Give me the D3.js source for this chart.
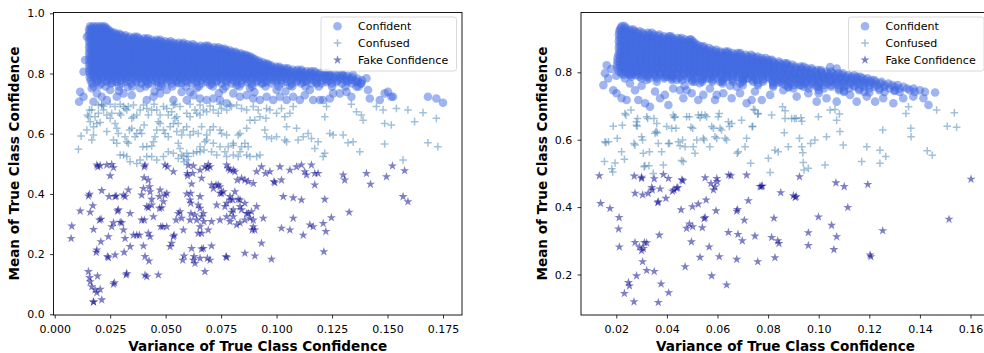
<!DOCTYPE html>
<html>
<head>
<meta charset="utf-8">
<script src="https://cdn.jsdelivr.net/npm/d3@7"></script>
<style>
  body { margin: 0; background: #fff; }
  svg { display: block; font-family: "DejaVu Sans", sans-serif; }
</style>
</head>
<body>
<svg id="chart" width="984" height="353"></svg>
<script>
// values are stored as integers: x in units of 1e-4, y in units of 1e-3

const seriesNames = ['Confident', 'Confused', 'Fake Confidence'];

const leftXTicks = [0, 0.025, 0.05, 0.075, 0.1, 0.125, 0.15, 0.175];
const leftYTicks = [0, 0.2, 0.4, 0.6, 0.8, 1.0];
const rightXTicks = [0.02, 0.04, 0.06, 0.08, 0.10, 0.12, 0.14, 0.16];
const rightYTicks = [0.2, 0.4, 0.6, 0.8];

// dense "Confident" cloud, one row per mean level: [y, x, x, x, ...]
const leftConfidentCore = [
  [957, 160,176,193,210,224],
  [952, 166,185,203,220,232],
  [947, 155,170,188,205,222,238],
  [942, 162,180,198,216,234,248],
  [937, 157,180,203,226,250,265],
  [932, 167,190,214,238,260,278,292],
  [927, 154,178,202,227,251,276,300,318],
  [922, 166,190,215,239,264,288,313,337,360,372],
  [917, 158,182,207,231,256,280,305,329,354,378,403,420],
  [912, 167,191,216,240,265,289,314,338,363,387,412,436,460,476],
  [907, 155,179,204,228,253,277,302,326,351,375,400,424,449,473,498,522],
  [902, 167,192,216,241,265,290,314,339,363,388,412,437,461,486,510,535,558,580],
  [897, 158,183,207,232,256,281,305,330,354,379,403,428,452,477,501,526,550,575,599,622],
  [892, 167,191,216,240,265,289,314,338,363,387,412,436,461,485,510,534,559,583,608,632,657,680,692],
  [887, 155,180,204,229,253,278,302,327,351,376,400,425,449,474,498,523,547,572,596,621,645,670,694,718,738],
  [882, 167,192,216,241,265,290,314,339,363,388,412,437,461,486,510,535,559,584,608,633,657,682,706,731,752,766],
  [877, 158,182,207,231,256,280,305,329,354,378,403,427,452,476,501,525,550,574,599,623,648,672,697,721,746,770,788],
  [872, 167,191,216,240,265,289,314,338,363,387,412,436,461,485,510,534,559,583,608,632,657,681,706,730,755,779,800,815],
  [867, 155,179,204,228,253,277,302,326,351,375,400,424,449,473,498,522,547,571,596,620,645,669,694,718,743,767,792,816,838],
  [862, 167,192,216,241,265,290,314,339,363,388,412,437,461,486,510,535,559,584,608,633,657,682,706,731,755,780,804,829,850,862],
  [857, 158,183,207,232,256,281,305,330,354,379,403,428,452,477,501,526,550,575,599,624,648,673,697,722,746,771,795,820,844,866,880],
  [852, 167,191,216,240,265,289,314,338,363,387,412,436,461,485,510,534,559,583,608,632,657,681,706,730,755,779,804,828,853,877,892],
  [847, 155,180,204,229,253,278,302,327,351,376,400,425,449,474,498,523,547,572,596,621,645,670,694,719,743,768,792,817,841,866,886,903],
  [842, 167,192,216,241,265,290,314,339,363,388,412,437,461,486,510,535,559,584,608,633,657,682,706,731,755,780,804,829,853,878,902,920],
  [837, 158,182,207,231,256,280,305,329,354,378,403,427,452,476,501,525,550,574,599,623,648,672,697,721,746,770,795,819,844,868,893,917,938],
  [832, 167,191,216,240,265,289,314,338,363,387,412,436,461,485,510,534,559,583,608,632,657,681,706,730,755,779,804,828,853,877,902,926,950,960],
  [827, 155,179,204,228,253,277,302,326,351,375,400,424,449,473,498,522,547,571,596,620,645,669,694,718,743,767,792,816,841,865,890,914,939,960,975],
  [822, 167,192,216,241,265,290,314,339,363,388,412,437,461,486,510,535,559,584,608,633,657,682,706,731,755,780,804,829,853,878,902,927,951,976,998,1012],
  [817, 158,183,207,232,256,281,305,330,354,379,403,428,452,477,501,526,550,575,599,624,648,673,697,722,746,771,795,820,844,869,893,918,942,967,991,1016,1035,1050],
  [812, 167,191,216,240,265,289,314,338,363,387,412,436,461,485,510,534,559,583,608,632,657,681,706,730,755,779,804,828,853,877,902,926,951,975,1000,1024,1049,1073,1095,1112],
  [807, 155,180,204,229,253,278,302,327,351,376,400,425,449,474,498,523,547,572,596,621,645,670,694,719,743,768,792,817,841,866,890,915,939,964,988,1013,1037,1062,1086,1111,1135,1155,1170],
  [802, 170,195,219,244,268,293,317,342,366,391,415,440,464,489,513,538,562,587,611,636,660,685,709,734,758,783,807,832,856,881,905,930,954,979,1003,1028,1052,1077,1101,1126,1150,1175,1199,1222,1232],
  [797, 160,184,209,233,258,282,307,331,356,380,405,429,454,478,503,527,552,576,601,625,650,674,699,723,748,772,797,821,846,870,895,919,944,968,993,1017,1042,1066,1091,1115,1140,1164,1189,1213,1238,1262,1290],
  [792, 172,200,228,255,282,308,336,364,391,418,444,472,498,524,552,578,604,632,658,686,712,738,766,792,820,846,872,898,926,952,978,1005,1032,1058,1085,1112,1138,1164,1192,1218,1245,1272,1298,1320],
  [787, 158,190,215,240,270,295,322,350,378,405,430,458,485,510,538,565,590,618,645,672,700,725,752,780,806,832,860,885,912,940,965,992,1018,1045,1072,1098,1125,1150,1178,1205,1232,1258,1285,1312,1340],
  [782, 178,212,246,281,318,354,390,426,462,500,535,571,608,642,680,715,751,788,824,860,896,932,970,1005,1041,1078,1112,1150,1186,1222,1260,1295,1332,1365],
  [777, 162,195,230,262,300,335,372,408,445,480,518,552,590,625,660,698,732,770,805,842,878,915,950,988,1022,1060,1095,1130,1168,1205,1240,1278,1312,1350,1385],
  [772, 190,235,280,322,368,414,460,505,550,595,640,685,730,775,820,865,910,955,1000,1045,1090,1135,1180,1225,1270,1318,1360],
  [767, 168,210,255,300,345,390,438,482,528,572,618,662,708,752,798,842,888,932,978,1022,1068,1112,1158,1202,1248,1295,1340,1380],
  [757, 175,230,290,350,410,470,530,592,650,712,770,832,890,950,1010,1070,1130,1190,1250,1310,1370]
];

// scattered "Confident" points at the lower edge of the cloud: [x, y]
const leftConfidentEdge = [
  [110,706],[115,739],[130,723],[137,845],[130,806],[145,922],[167,751],[175,706],[190,734],[212,723],
  [235,712],[250,745],[280,723],[310,734],[347,728],[385,751],[415,712],[445,723],[475,734],[505,745],
  [535,712],[572,739],[595,712],[625,728],[655,717],[685,712],[715,717],[745,712],[775,701],[805,734],
  [835,723],[865,728],[895,717],[925,712],[955,723],[985,712],[1015,723],[1045,712],[1075,723],[1105,712],
  [1127,728],[1150,745],[1165,712],[1195,712],[1210,712],[1240,717],[1255,734],[1285,734],[1315,739],[1337,723],
  [1360,756],[1382,767],[1405,784],[1412,745],[1420,717],[1465,712],[1487,734],[1502,739],[1517,723],[1525,723],
  [1682,723],[1720,717],[1750,703],[1300,795],[1345,795],[1367,773],[1232,778],[1180,767],[1330,778],
  [200,760],[260,770],[330,755],[420,765],[480,758],[560,768],[640,752],[700,762],[760,748],[820,760],
  [880,752],[940,768],[1000,745],[1060,760],[1120,772],[290,742],[450,740],[610,738],[740,735],[900,738],[1040,740]
];

const leftConfused = [
  [107,548],[119,592],[145,612],[148,662],[157,679],[167,579],[175,623],[190,634],[182,656],[197,668],
  [205,637],[212,695],[220,679],[212,698],[235,662],[250,651],[257,668],[272,634],[280,618],[287,601],
  [292,668],[298,662],[317,684],[325,679],[347,651],[355,656],[337,612],[317,590],[332,568],[325,573],
  [347,618],[370,601],[362,590],[392,601],[385,612],[403,629],[397,557],[415,557],[437,559],[445,573],
  [452,590],[460,612],[467,640],[475,634],[490,612],[497,601],[512,590],[520,623],[535,634],[542,651],
  [550,607],[557,568],[565,551],[572,529],[583,507],[595,513],[602,524],[625,535],[640,540],[655,557],
  [677,573],[685,579],[673,546],[707,540],[730,529],[767,540],[782,557],[805,562],[827,596],[835,601],
  [865,618],[880,645],[902,645],[925,656],[952,651],[955,684],[970,679],[1000,668],[1022,684],[1037,656],
  [1060,668],[1075,690],[1090,618],[1097,579],[1120,590],[1142,601],[1157,584],[1187,573],[1217,656],[1225,690],
  [1240,601],[1255,596],[1300,596],[1322,570],[1345,573],[1337,698],[1360,673],[1382,662],[1390,645],[1375,540],
  [1450,690],[1480,679],[1487,634],[1517,629],[1540,684],[1570,513],[1592,679],[1622,640],[1660,670],[1682,570],
  [1720,651],[1727,557],[1487,566],[1210,524],[1172,551],[1217,535],[1045,573],[1037,579],[1045,623],[1000,590],
  [955,590],[977,584],[947,612],[925,529],[910,524],[880,524],[872,557],[857,568],[842,557],[865,529],
  [827,524],[805,568],[775,596],[752,601],[745,612],[715,623],[700,612],[685,596],[662,623],[647,601],
  [625,607],[610,596],[595,623],[580,612],[572,596],[557,634],[550,656],[527,673],[512,662],[505,684],
  [490,690],[475,662],[460,679],[448,698],[437,679],[422,662],[415,684],[400,695],[385,679],[370,662],
  [355,695],[332,690],[310,690],[295,698],[272,690],[250,698],[220,692],[197,695],[167,679],[152,656],
  [160,640],[175,596],[235,607],[265,579],[280,568],[295,529],[310,529],[325,524],[340,507],[370,501],
  [385,513],[415,524],[437,524],[460,513],[490,524],[512,540],[535,535],[557,518],[580,524],[595,535],
  [655,540],[715,568],[745,557],[775,524],[805,529],[835,540],[595,668],[610,656],[632,679],[640,668],
  [655,662],[670,679],[685,673],[715,679],[737,668],[752,684],[775,679],[797,690],[820,695],[842,684],
  [865,679],[895,690],[917,679],[610,698],[655,695],[700,692],[745,698],[790,695],[565,690],[535,695],[542,698]
];

const leftFake = [
  [77,293],[74,252],[115,343],[152,393],[157,399],[160,339],[172,361],[175,282],[190,214],[187,206],
  [152,142],[157,122],[160,108],[167,92],[182,81],[190,72],[175,41],[175,41],[212,48],[205,83],
  [193,127],[208,241],[202,313],[209,316],[212,411],[194,490],[190,496],[205,494],[235,496],[257,498],
  [265,487],[250,460],[245,391],[272,391],[277,393],[283,343],[287,347],[317,391],[332,413],[310,396],
  [265,304],[257,291],[242,258],[238,192],[242,188],[272,197],[269,105],[265,100],[295,306],[302,304],
  [310,280],[317,252],[313,206],[325,136],[322,131],[340,225],[340,335],[355,263],[370,263],[382,263],
  [392,313],[404,313],[400,227],[422,269],[430,258],[404,490],[407,496],[403,454],[422,446],[427,424],
  [430,407],[437,382],[437,363],[400,418],[392,396],[415,358],[422,354],[445,324],[407,192],[415,125],
  [407,130],[425,177],[467,131],[475,413],[472,391],[482,354],[490,374],[497,396],[505,402],[472,352],
  [478,291],[487,291],[505,291],[508,490],[535,474],[497,496],[520,225],[527,236],[535,258],[538,263],
  [547,313],[557,335],[565,341],[572,319],[577,180],[583,194],[595,400],[598,468],[599,460],[602,495],
  [610,380],[613,369],[614,335],[610,313],[613,402],[617,433],[622,468],[625,493],[655,479],[662,452],
  [677,490],[688,485],[692,498],[700,490],[707,430],[715,418],[727,430],[737,430],[745,424],[752,402],
  [760,407],[767,358],[775,369],[790,380],[655,391],[647,363],[655,352],[632,330],[640,313],[662,324],
  [670,335],[655,291],[647,269],[662,269],[617,219],[628,192],[632,169],[625,180],[655,186],[662,217],
  [670,219],[677,142],[688,186],[700,180],[707,227],[692,280],[707,308],[745,313],[775,324],[790,308],
  [797,339],[805,347],[802,380],[812,407],[827,382],[835,358],[842,347],[857,313],[865,335],[835,304],
  [820,297],[790,479],[775,496],[782,485],[805,479],[812,474],[823,446],[842,452],[857,446],[872,441],
  [895,435],[910,474],[932,490],[950,468],[970,474],[988,441],[992,437],[1015,490],[1022,446],[1030,391],
  [1060,479],[1090,490],[1112,496],[1127,474],[1135,463],[1157,496],[1172,468],[1187,468],[1172,430],[1075,387],
  [1112,380],[857,369],[872,335],[880,319],[887,341],[895,291],[890,280],[902,280],[940,319],[1022,286],
  [1060,280],[1075,319],[1120,263],[1150,297],[1165,291],[1210,302],[1217,382],[1222,275],[1213,208],[1247,321],
  [1300,463],[1307,446],[1327,339],[1405,468],[1423,432],[1495,457],[1522,493],[1577,477],[1570,391],[1592,374],
  [775,189],[772,192],[857,203],[902,194],[932,236],[977,183],[910,358],[835,380],[790,391],[730,363],
  [805,324],[895,313],[580,280],[672,308],[745,402]
];

const rightConfidentCore = [
  [937, 222,232],
  [932, 218,238],
  [927, 215,236,256,268],
  [922, 212,232,252,272,292],
  [917, 220,241,262,283,304,325,340],
  [912, 210,230,250,270,290,310,330,350,370],
  [907, 220,241,262,283,304,325,346,367,388,408,416],
  [902, 212,233,254,275,296,317,338,359,380,401,422,443,458],
  [897, 220,241,262,283,304,325,346,367,388,409,430,451,472,490,496],
  [892, 210,231,252,273,294,315,336,357,378,399,420,441,462,483,502],
  [887, 220,241,262,283,304,325,346,367,388,409,430,451,472,493,510],
  [882, 212,233,254,275,296,317,338,359,380,401,422,443,464,485,506,522],
  [877, 220,241,262,283,304,325,346,367,388,409,430,451,472,493,514,535,546],
  [872, 210,231,252,273,294,315,336,357,378,399,420,441,462,483,504,525,546,567],
  [867, 220,241,262,283,304,325,346,367,388,409,430,451,472,493,514,535,556,577,595],
  [862, 212,233,254,275,296,317,338,359,380,401,422,443,464,485,506,527,548,569,590,611,632,642],
  [857, 218,239,260,281,302,323,344,365,386,407,428,449,470,491,512,533,554,575,596,617,638,659,680,690],
  [852, 208,229,250,271,292,313,334,355,376,397,418,439,460,481,502,523,544,565,586,607,628,649,670,691,712,733],
  [847, 215,236,257,278,299,320,341,362,383,404,425,446,467,488,509,530,551,572,593,614,635,656,677,698,719,740,758],
  [842, 205,226,247,268,289,310,331,352,373,394,415,436,457,478,499,520,541,562,583,604,625,646,667,688,709,730,751,772,790],
  [837, 215,236,257,278,299,320,341,362,383,404,425,446,467,488,509,530,551,572,593,614,635,656,677,698,719,740,761,782,803,815],
  [832, 205,227,249,271,293,315,337,359,381,403,425,447,469,491,513,535,557,579,601,623,645,667,689,711,733,755,777,799,821,843],
  [827, 214,235,256,277,298,319,340,361,382,403,424,445,466,487,508,529,550,571,592,613,634,655,676,697,718,739,760,781,802,823,844,865,875],
  [822, 203,224,245,266,287,308,329,350,371,392,413,434,455,476,497,518,539,560,581,602,623,644,665,686,707,728,749,770,791,812,833,854,875,896],
  [817, 215,236,257,278,299,320,341,362,383,404,425,446,467,488,509,530,551,572,593,614,635,656,677,698,719,740,761,782,803,824,845,866,887,908,929,940],
  [812, 205,227,249,271,293,315,337,359,381,403,425,447,469,491,513,535,557,579,601,623,645,667,689,711,733,755,777,799,821,843,865,887,909,931,953,972],
  [807, 218,239,260,281,302,323,344,365,386,407,428,449,470,491,512,533,554,575,596,617,638,659,680,701,722,743,764,785,806,827,848,869,890,911,932,953,974,995,1008],
  [802, 210,231,252,273,294,315,336,357,378,399,420,441,462,483,504,525,546,567,588,609,630,651,672,693,714,735,756,777,798,819,840,861,882,903,924,945,966,987,1008,1029,1050],
  [797, 220,242,264,286,308,330,352,374,396,418,440,462,484,506,528,550,572,594,616,638,660,682,704,726,748,770,792,814,836,858,880,902,924,946,968,990,1012,1034,1056,1078,1095],
  [792, 228,252,276,300,324,348,372,396,420,444,468,492,516,540,564,588,612,636,660,684,708,732,756,780,804,828,852,876,900,924,948,972,996,1020,1044,1068,1092,1116,1140],
  [787, 260,292,324,356,388,420,452,484,516,548,580,612,644,676,708,740,772,800,822,844,866,888,910,932,954,976,998,1020,1042,1064,1086,1108,1130,1152,1165],
  [782, 300,330,360,390,420,450,480,510,540,570,600,630,660,690,720,750,780,805,828,851,874,897,920,943,966,989,1012,1035,1058,1081,1104,1127,1150,1173,1192],
  [777, 420,460,500,540,580,620,660,700,740,780,815,840,862,885,908,931,954,977,1000,1023,1046,1069,1092,1115,1138,1161,1184,1207,1220],
  [772, 500,540,580,620,660,700,740,780,820,850,875,900,925,950,975,1000,1025,1050,1075,1100,1125,1150,1175,1200,1225,1248],
  [767, 620,690,760,820,855,885,915,945,975,1005,1035,1065,1095,1125,1155,1185,1215,1245,1275],
  [762, 700,760,820,870,900,930,960,990,1020,1050,1080,1110,1140,1170,1200,1230,1260,1290,1312],
  [757, 820,880,940,1000,1050,1100,1140,1180,1220,1260,1300,1335],
  [752, 900,960,1020,1080,1120,1160,1200,1240,1280,1320,1350,1375],
  [747, 1000,1080,1160,1240,1300,1360,1400],
  [742, 1100,1180,1260,1320,1380,1420]
];

const rightConfidentEdge = [
  [149,762],[155,797],[162,821],[168,782],[188,747],[201,738],[221,723],[241,718],[234,782],[254,767],
  [274,747],[287,718],[314,708],[333,698],[353,743],[373,723],[392,733],[406,703],[425,752],[452,747],
  [465,723],[478,747],[498,738],[524,718],[544,733],[570,752],[590,718],[597,733],[623,738],[656,723],
  [676,757],[689,738],[715,708],[735,718],[748,743],[320,777],[360,772],[399,787],[439,777],[511,772],
  [557,782],[610,772],[636,787],[715,782],[755,777],[775,718],[808,733],[860,747],[913,728],[959,738],
  [992,713],[1031,723],[1071,713],[1124,733],[1150,713],[1190,728],[1223,713],[1255,723],[1295,708],[1334,723],
  [1374,728],[1414,723],[1434,703],[1460,740],[1045,816],[1071,811],[926,762],[992,757],
  [180,810],[200,790],[260,792],[300,760],[420,790],[470,760],[530,768],[650,760],[700,780],[840,770],
  [880,755],[1000,738],[1100,745],[1200,740],[1300,745]
];

const rightConfused = [
  [153,535],[159,591],[169,594],[186,504],[182,514],[195,531],[204,604],[221,564],[232,542],[234,678],
  [238,673],[258,688],[270,589],[274,584],[280,643],[280,653],[284,663],[300,609],[304,599],[307,560],
  [310,520],[313,523],[320,668],[324,663],[329,523],[346,500],[349,663],[353,619],[357,624],[360,648],
  [366,589],[379,564],[386,525],[399,639],[406,589],[410,589],[419,634],[425,673],[432,668],[436,634],
  [445,594],[452,582],[458,538],[465,535],[462,599],[472,579],[478,668],[489,668],[495,637],[502,634],
  [504,579],[511,560],[518,599],[524,673],[531,666],[537,673],[544,604],[547,599],[551,673],[557,668],
  [570,579],[577,639],[584,634],[590,609],[597,604],[610,634],[616,629],[603,668],[607,678],[630,604],
  [636,599],[643,653],[647,639],[656,648],[678,560],[682,564],[695,658],[709,579],[715,604],[731,530],
  [739,639],[742,690],[748,688],[761,678],[801,545],[808,503],[814,673],[827,569],[840,564],[864,621],
  [867,663],[867,686],[880,579],[893,663],[911,663],[924,604],[933,579],[930,665],[933,655],[937,561],
  [939,532],[942,510],[959,515],[968,589],[985,599],[999,668],[1025,525],[1031,609],[1045,688],[1064,690],
  [1071,658],[1082,676],[1097,584],[1084,624],[1170,535],[1190,579],[1242,569],[1242,530],[1253,629],[1265,550],
  [1345,678],[1364,634],[1365,609],[1429,567],[1449,554],[1508,640],[1536,680],[1545,637],[1466,688],[1355,698],
  [188,640],[224,643],[282,640],[331,564],[362,621],[429,666],[737,639],[759,676],[857,698],[904,663],[155,594]
];

const rightFake = [
  [133,493],[138,411],[175,396],[211,369],[209,335],[212,282],[232,144],[248,176],[252,166],[270,119],
  [280,196],[274,295],[291,282],[300,271],[307,277],[304,238],[311,295],[320,294],[274,441],[271,492],
  [300,485],[304,436],[320,212],[350,209],[370,317],[377,172],[407,146],[366,117],[300,489],[326,441],
  [342,451],[350,484],[366,416],[373,454],[386,497],[396,426],[406,485],[422,447],[428,451],[439,456],
  [456,392],[459,481],[463,478],[472,223],[478,337],[489,350],[497,297],[501,401],[502,342],[524,409],
  [531,251],[540,339],[551,487],[555,421],[547,366],[551,369],[567,282],[577,196],[574,470],[584,451],
  [590,460],[597,485],[599,475],[594,389],[607,253],[636,169],[643,325],[644,495],[653,493],[676,388],
  [679,393],[681,319],[676,245],[698,300],[706,361],[715,495],[722,419],[748,314],[759,238],[768,461],
  [774,461],[777,463],[814,310],[827,250],[823,367],[838,300],[843,292],[850,443],[900,434],[907,429],
  [911,431],[924,490],[959,324],[959,286],[999,371],[1051,346],[1060,274],[1071,312],[1068,472],[1101,461],
  [1115,399],[1194,467],[1203,258],[1206,253],[1253,330],[1515,364],[1602,483],[340,458],[443,458],[364,413]
];

// ---- layout ----
const TOP = 12, BOTTOM = 315;
const panels = [
  { x0: 53.5, x1: 462, xDomain: [-0.00054, 0.18356], yDomain: [-0.0023, 1.0043],
    xTicks: leftXTicks, xFmt: '.3f', yTicks: leftYTicks,
    core: leftConfidentCore, edge: leftConfidentEdge, confused: leftConfused, fake: leftFake,
    legendX: 321, yLabelX: 14.5 },
  { x0: 581, x1: 990, xDomain: [0.00605, 0.1677], yDomain: [0.0798, 0.979],
    xTicks: rightXTicks, xFmt: '.2f', yTicks: rightYTicks,
    core: rightConfidentCore, edge: rightConfidentEdge, confused: rightConfused, fake: rightFake,
    legendX: 848.5, yLabelX: 542.5 }
];

const colors = { confident: '#4169e1', confused: '#4682b4', fake: '#00008b' };
const starPath = d3.symbol(d3.symbolStar, 26)();
const plusPath = 'M-3.8,0H3.8M0,-3.8V3.8';

const svg = d3.select('#chart');

function rowsToPoints(rows) {
  const pts = [];
  rows.forEach(r => r.slice(1).forEach(xv => pts.push([xv, r[0]])));
  return pts;
}

function drawPanel(p, i) {
  const x = d3.scaleLinear().domain(p.xDomain).range([p.x0, p.x1]);
  const y = d3.scaleLinear().domain(p.yDomain).range([BOTTOM, TOP]);
  const px = d => x(d[0] / 1e4);
  const py = d => y(d[1] / 1e3);

  svg.append('clipPath').attr('id', 'clip' + i)
    .append('rect').attr('x', p.x0).attr('y', TOP)
    .attr('width', p.x1 - p.x0).attr('height', BOTTOM - TOP);

  const plot = svg.append('g').attr('clip-path', `url(#clip${i})`);

  const confident = rowsToPoints(p.core).concat(p.edge);
  plot.append('g').selectAll('circle')
    .data(confident)
    .enter()
    .append('circle')
    .attr('cx', px)
    .attr('cy', py)
    .attr('r', 4.3)
    .attr('fill', colors.confident)
    .attr('fill-opacity', 0.5);

  plot.append('g').selectAll('path')
    .data(p.confused)
    .enter()
    .append('path')
    .attr('d', plusPath)
    .attr('transform', d => `translate(${px(d)},${py(d)})`)
    .attr('fill', 'none')
    .attr('stroke', colors.confused)
    .attr('stroke-width', 1.5)
    .attr('stroke-opacity', 0.5);

  plot.append('g').selectAll('path')
    .data(p.fake)
    .enter()
    .append('path')
    .attr('d', starPath)
    .attr('transform', d => `translate(${px(d)},${py(d)})`)
    .attr('fill', colors.fake)
    .attr('fill-opacity', 0.5);

  // axes
  const gx = svg.append('g')
    .attr('transform', `translate(0,${BOTTOM})`)
    .call(d3.axisBottom(x).tickValues(p.xTicks).tickFormat(d3.format(p.xFmt))
      .tickSize(3.5).tickPadding(7));
  const gy = svg.append('g')
    .attr('transform', `translate(${p.x0},0)`)
    .call(d3.axisLeft(y).tickValues(p.yTicks).tickFormat(d3.format('.1f'))
      .tickSize(3.5).tickPadding(5.3));
  [gx, gy].forEach(g => {
    g.select('.domain').remove();
    g.attr('font-family', '"DejaVu Sans", sans-serif').attr('font-size', 11);
    g.selectAll('line').attr('stroke', '#000').attr('stroke-width', 0.8);
    g.selectAll('text').attr('fill', '#000');
  });

  // spines
  svg.append('rect')
    .attr('x', p.x0).attr('y', TOP + 0.5)
    .attr('width', p.x1 - p.x0).attr('height', BOTTOM - TOP - 0.5)
    .attr('fill', 'none').attr('stroke', '#000').attr('stroke-width', 0.9);

  // axis labels
  svg.append('text')
    .attr('x', (p.x0 + p.x1) / 2).attr('y', 350.5)
    .attr('text-anchor', 'middle')
    .attr('font-size', 13.6).attr('font-weight', 'bold')
    .text('Variance of True Class Confidence');
  svg.append('text')
    .attr('transform', `translate(${p.yLabelX},${(TOP + BOTTOM) / 2}) rotate(-90)`)
    .attr('text-anchor', 'middle')
    .attr('dy', '0.36em')
    .attr('font-size', 13.6).attr('font-weight', 'bold')
    .text('Mean of True Class Confidence');

  // legend
  const lg = svg.append('g').attr('transform', `translate(${p.legendX},17)`);
  lg.append('rect')
    .attr('width', 135.5).attr('height', 54).attr('rx', 2.5)
    .attr('fill', '#fff').attr('fill-opacity', 0.8)
    .attr('stroke', '#cccccc').attr('stroke-opacity', 0.8).attr('stroke-width', 0.9);
  const rows = [9.3, 26, 43];
  const mk = 16.5;
  lg.append('circle').attr('cx', mk).attr('cy', rows[0]).attr('r', 4.3)
    .attr('fill', colors.confident).attr('fill-opacity', 0.5);
  lg.append('path').attr('d', plusPath).attr('transform', `translate(${mk},${rows[1]})`)
    .attr('fill', 'none').attr('stroke', colors.confused).attr('stroke-width', 1.5).attr('stroke-opacity', 0.5);
  lg.append('path').attr('d', starPath).attr('transform', `translate(${mk},${rows[2]})`)
    .attr('fill', colors.fake).attr('fill-opacity', 0.5);
  lg.selectAll('text.lab')
    .data(seriesNames)
    .enter()
    .append('text')
    .attr('class', 'lab')
    .attr('x', 37)
    .attr('y', (d, k) => rows[k] + 4)
    .attr('font-size', 11)
    .text(d => d);
}

panels.forEach(drawPanel);
</script>
</body>
</html>
